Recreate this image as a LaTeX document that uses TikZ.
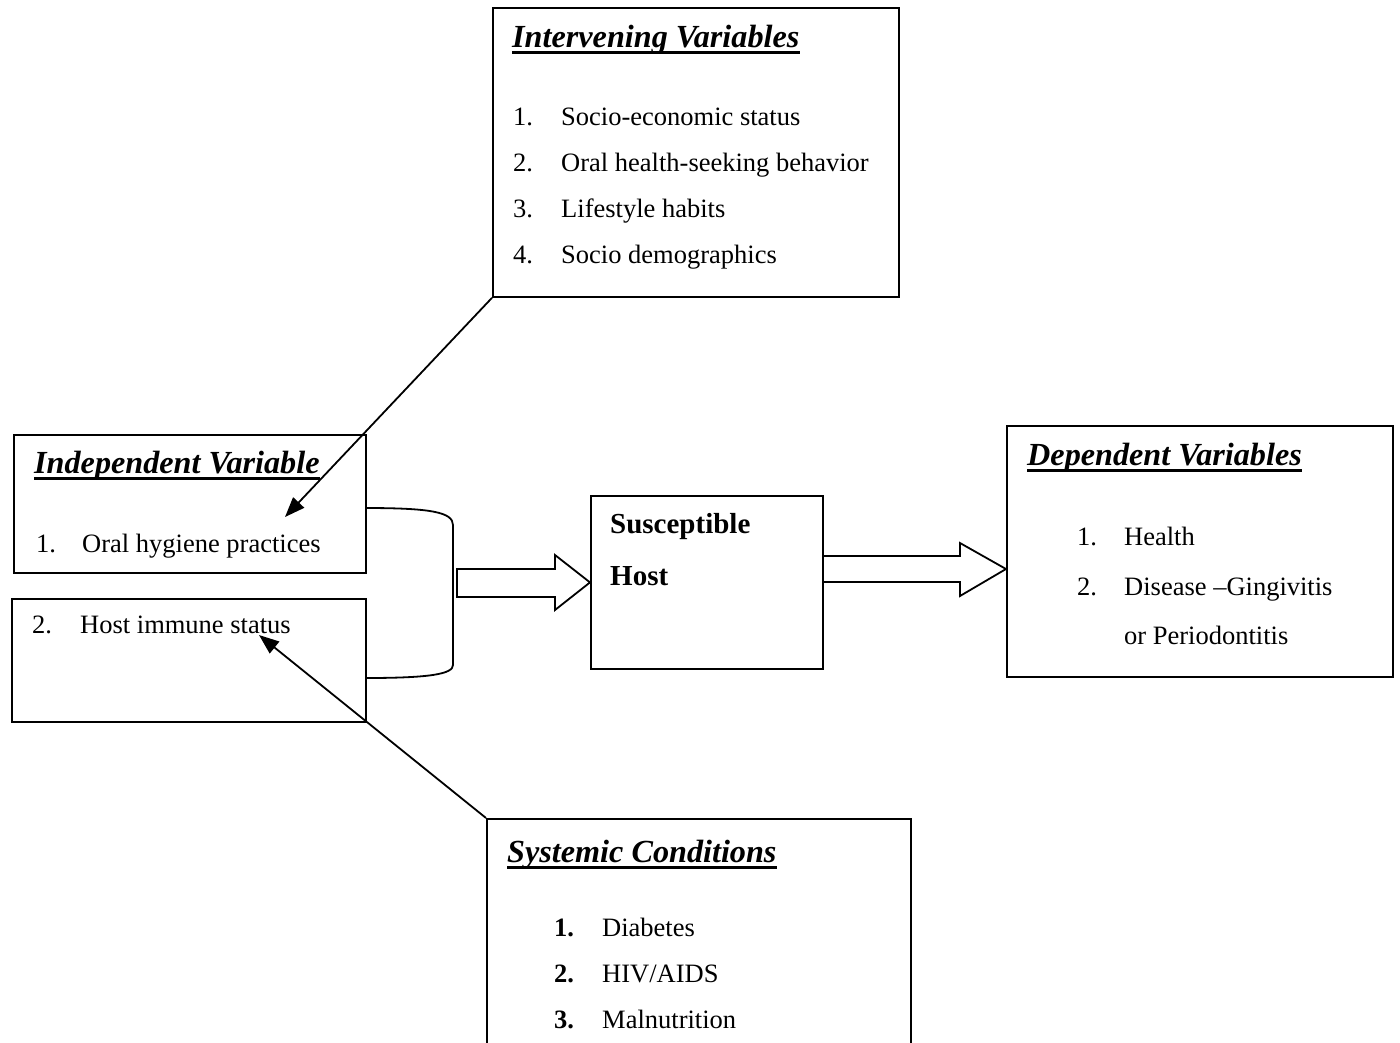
\documentclass[tikz,border=0pt]{standalone}
\usepackage{fontspec}
\setmainfont{Liberation Serif}
\usetikzlibrary{arrows.meta,calc}
\tikzset{
  box/.style={draw=black, line width=1.8pt, inner sep=0pt, anchor=north west},
  txt/.style={inner sep=0pt, anchor=base west, font=\fontsize{26.5}{30}\selectfont},
  ttl/.style={inner sep=0pt, anchor=base west, font=\fontsize{32.2}{36}\selectfont\bfseries\itshape},
  hostfont/.style={inner sep=0pt, anchor=base west, font=\fontsize{29}{33}\selectfont\bfseries},
  ul/.style={line width=3pt},
  conn/.style={line width=1.8pt, -{Triangle[length=20pt,width=15pt]}},
  blk/.style={line width=1.8pt, line join=miter},
  brk/.style={line width=1.8pt}
}
\begin{document}
\begin{tikzpicture}[x=1pt,y=-1pt]
\useasboundingbox (0,0) rectangle (1400,1042);
\clip (0,0) rectangle (1400,1042);
\fill[white] (0,0) rectangle (1400,1042);

% Boxes
\node[box, minimum width=406pt, minimum height=289pt] (iv) at (492,7) {};
\node[box, minimum width=352pt, minimum height=138pt] (ind) at (13,434) {};
\node[box, minimum width=354pt, minimum height=123pt] (him) at (11,598) {};
\node[box, minimum width=232pt, minimum height=173pt] (sh) at (590,495) {};
\node[box, minimum width=386pt, minimum height=251pt] (dep) at (1006,425) {};
\node[box, minimum width=424pt, minimum height=260pt] (sys) at (486,818) {};

% Intervening variables
\node[ttl] (ivt) at (512,47) {Intervening Variables};
\draw[ul] ([yshift=-5.5pt]ivt.base west) -- ([yshift=-5.5pt]ivt.base east);
\node[txt] (ivn1) at (513,125) {1.};
\node[txt] (ivi1) at (561,125) {Socio-economic status};
\node[txt] (ivn2) at (513,171) {2.};
\node[txt] (ivi2) at (561,171) {Oral health-seeking behavior};
\node[txt] (ivn3) at (513,217) {3.};
\node[txt] (ivi3) at (561,217) {Lifestyle habits};
\node[txt] (ivn4) at (513,263) {4.};
\node[txt] (ivi4) at (561,263) {Socio demographics};

% Independent variable
\node[ttl] (indt) at (34,473) {Independent Variable};
\draw[ul] ([yshift=-5.5pt]indt.base west) -- ([yshift=-5.5pt]indt.base east);
\node[txt] (indn1) at (36,552) {1.};
\node[txt] (indi1) at (82,552) {Oral hygiene practices};
\node[txt] (himn2) at (32,633) {2.};
\node[txt] (himi2) at (80,633) {Host immune status};

% Susceptible host
\node[hostfont] (sh1) at (610,533) {Susceptible};
\node[hostfont] (sh2) at (610,585) {Host};

% Dependent variables
\node[ttl] (dept) at (1027,465) {Dependent Variables};
\draw[ul] ([yshift=-5.5pt]dept.base west) -- ([yshift=-5.5pt]dept.base east);
\node[txt] (depn1) at (1077,545) {1.};
\node[txt] (depi1) at (1124,545) {Health};
\node[txt] (depn2) at (1077,595) {2.};
\node[txt] (depi2) at (1124,595) {Disease --Gingivitis};
\node[txt] (depi3) at (1124,644) {or Periodontitis};

% Systemic conditions
\node[ttl] (syst) at (507,862) {Systemic Conditions};
\draw[ul] ([yshift=-5.5pt]syst.base west) -- ([yshift=-5.5pt]syst.base east);
\node[txt] (sysn1) at (554,936) {\textbf{1.}};
\node[txt] (sysi1) at (602,936) {Diabetes};
\node[txt] (sysn2) at (554,982) {\textbf{2.}};
\node[txt] (sysi2) at (602,982) {HIV/AIDS};
\node[txt] (sysn3) at (554,1028) {\textbf{3.}};
\node[txt] (sysi3) at (602,1028) {Malnutrition};

% Connectors
\coordinate (tipA) at (285,517);
\coordinate (tipB) at (259,635);
\draw[conn] (iv.south west) -- (tipA);
\draw[conn] (sys.north west) -- (tipB);

% Bracket joining the two independent boxes
\coordinate (bt) at (365,508);
\coordinate (bb) at (366,678);
\draw[brk] (bt) .. controls (430,508) and (453,512) .. (453,525)
  -- (453,665) .. controls (453,674) and (430,678) .. (bb);

% Block arrow into susceptible host
\draw[blk] (457,569) -- (555,569) -- (555,555) -- (sh.west) -- (555,610) -- (555,597) -- (457,597) -- cycle;

% Block arrow into dependent variables
\coordinate (tipC) at (1006,569);
\draw[blk] (sh.east |- 0,556) -- (960,556) -- (960,543) -- (tipC) -- (960,596) -- (960,582) -- (sh.east |- 0,582);
\end{tikzpicture}
\end{document}
